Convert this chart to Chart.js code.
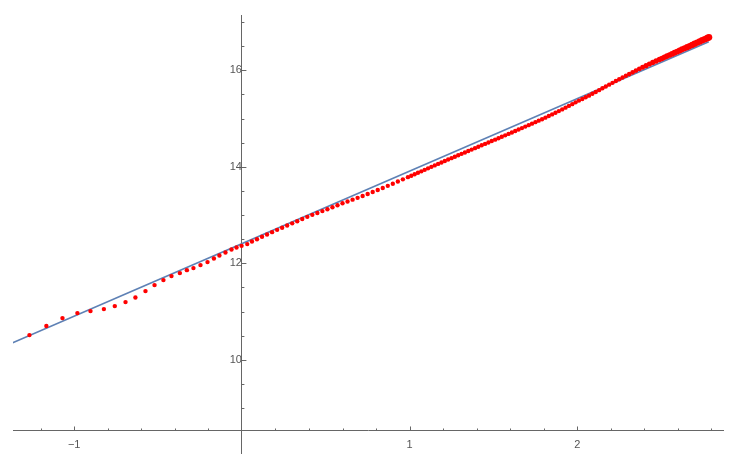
<!DOCTYPE html>
<html>
<head>
<meta charset="utf-8">
<script src="https://cdn.jsdelivr.net/npm/chart.js@4.4.1/dist/chart.umd.min.js"></script>
<style>
  html, body { margin: 0; padding: 0; background: #fff; }
  canvas { display: block; }
</style>
</head>
<body>
<canvas id="qqChart" width="738" height="459"></canvas>
<script>
// theoretical quantiles (x) and sample quantiles (y)
const qqX = [
  -1.267, -1.166, -1.070, -0.981, -0.903, -0.823, -0.758, -0.694, -0.635, -0.575,
  -0.521, -0.468, -0.420, -0.370, -0.328, -0.289, -0.247, -0.205, -0.167, -0.134,
  -0.098, -0.062, -0.032, -0.002, 0.032,
  0.06, 0.09, 0.12, 0.15, 0.18, 0.21, 0.24, 0.27, 0.30, 0.33, 0.36, 0.39, 0.42, 0.45,
  0.48, 0.51, 0.54, 0.57, 0.60, 0.63, 0.66, 0.69, 0.72, 0.75, 0.78, 0.81, 0.84, 0.87,
  0.90, 0.93, 0.96, 0.99,
  1.01, 1.03, 1.05, 1.07, 1.09, 1.11, 1.13, 1.15, 1.17, 1.19, 1.21, 1.23, 1.25, 1.27,
  1.29, 1.31, 1.33, 1.35, 1.37, 1.39, 1.41, 1.43, 1.45, 1.47, 1.49, 1.51, 1.53, 1.55,
  1.57, 1.59, 1.61, 1.63, 1.65, 1.67, 1.69, 1.71, 1.73, 1.75, 1.77, 1.79, 1.81, 1.83,
  1.85, 1.87, 1.89, 1.91, 1.93, 1.95, 1.97, 1.99, 2.01, 2.03, 2.05, 2.07, 2.09, 2.11,
  2.13, 2.15, 2.17, 2.19, 2.21, 2.23, 2.25, 2.27, 2.29, 2.31, 2.33, 2.35, 2.37, 2.39,
  2.41, 2.43, 2.45, 2.47, 2.49,
  2.505, 2.52, 2.535, 2.55, 2.565, 2.58, 2.595, 2.61, 2.625, 2.64, 2.655, 2.67, 2.685,
  2.70, 2.715, 2.73, 2.745, 2.76, 2.775, 2.785
];
const qqY = [
  10.513, 10.700, 10.865, 10.969, 11.010, 11.052, 11.114, 11.197, 11.292, 11.424,
  11.549, 11.652, 11.735, 11.797, 11.859, 11.901, 11.963, 12.025, 12.099, 12.161,
  12.224, 12.286, 12.327, 12.362, 12.398,
  12.453, 12.499, 12.550, 12.598, 12.646, 12.693, 12.738, 12.783, 12.828, 12.873,
  12.918, 12.963, 13.004, 13.043, 13.082, 13.121, 13.162, 13.203, 13.244, 13.282,
  13.319, 13.356, 13.396, 13.436, 13.477, 13.518, 13.562, 13.605, 13.649, 13.694,
  13.740, 13.785,
  13.815, 13.845, 13.876, 13.906, 13.937, 13.968, 13.999, 14.029, 14.060, 14.090,
  14.120, 14.150, 14.179, 14.208, 14.238, 14.268, 14.297, 14.327, 14.356, 14.386,
  14.416, 14.445, 14.474, 14.504, 14.533, 14.562, 14.592, 14.622, 14.651, 14.681,
  14.711, 14.741, 14.772, 14.802, 14.833, 14.863, 14.894, 14.925, 14.956, 14.986,
  15.018, 15.052, 15.086, 15.120, 15.154, 15.189, 15.225, 15.262, 15.298, 15.335,
  15.371, 15.406, 15.440, 15.474, 15.512, 15.550, 15.588, 15.626, 15.664, 15.702,
  15.739, 15.776, 15.813, 15.849, 15.885, 15.921, 15.957, 15.993, 16.028, 16.063,
  16.096, 16.129, 16.161, 16.192, 16.223,
  16.246, 16.270, 16.293, 16.316, 16.339, 16.363, 16.386, 16.409, 16.433, 16.456,
  16.479, 16.502, 16.526, 16.549, 16.573, 16.596, 16.620, 16.643, 16.667, 16.682
];

// fitted reference line, end points
const fitX = [-1.37, 2.784];
const fitY = [10.348, 16.590];

const xLabels = [-1, 1, 2];
const yLabels = [10, 12, 14, 16];

const axisColor = '#666666';
const labelColor = '#555555';
const xAxisAt = 8.526;

function isMajor(v, list) {
    return list.some(l => Math.abs(v - l) < 1e-6);
}

function fmt(v) {
    const r = Math.round(v);
    return r < 0 ? '\u2212' + Math.abs(r) : String(r);
}

// axes sit inside the plot, so they should not push the chart area in
function noAxisPadding(s) {
    s.paddingTop = 0;
    s.paddingBottom = 0;
    s.paddingLeft = 0;
    s.paddingRight = 0;
}

// mathematica style ticks: drawn on the inner side of the axes
const innerTicks = {
    id: 'innerTicks',
    afterDraw(chart) {
        const c = chart.ctx;
        const xs = chart.scales.x;
        const ys = chart.scales.y;
        const x0 = xs.getPixelForValue(0);
        const y0 = ys.getPixelForValue(xAxisAt);
        c.save();
        c.strokeStyle = axisColor;
        c.lineWidth = 1;
        c.beginPath();
        xs.ticks.forEach(t => {
            if (Math.abs(t.value) < 1e-6) return;
            const px = Math.round(xs.getPixelForValue(t.value)) + 0.5;
            const len = Math.abs(t.value - Math.round(t.value)) < 1e-6 ? 4.5 : 2.5;
            c.moveTo(px, y0);
            c.lineTo(px, y0 - len);
        });
        ys.ticks.forEach(t => {
            if (t.value < xAxisAt + 0.1) return;
            const py = Math.round(ys.getPixelForValue(t.value)) + 0.5;
            const len = isMajor(t.value, yLabels) ? 4.5 : 2.5;
            c.moveTo(x0, py);
            c.lineTo(x0 + len, py);
        });
        c.stroke();
        c.restore();
    }
};

const ctx = document.getElementById('qqChart').getContext('2d');

new Chart(ctx, {
    type: 'scatter',
    data: {
        datasets: [{
            data: qqX.map((x, i) => ({ x: x, y: qqY[i] })),
            backgroundColor: '#ff0000',
            borderWidth: 0,
            pointRadius: c => {
                const v = c.raw ? c.raw.x : 0;
                return v > 2.3 ? 2.3 + (v - 2.3) * 2.2 : 2.2;
            },
            pointHoverRadius: 0
        }, {
            type: 'line',
            data: fitX.map((x, i) => ({ x: x, y: fitY[i] })),
            borderColor: '#5e81b5',
            borderWidth: 1.6,
            pointRadius: 0,
            fill: false
        }]
    },
    options: {
        responsive: false,
        animation: false,
        devicePixelRatio: 1,
        layout: {
            padding: { left: 13, right: 15, top: 15, bottom: 6 }
        },
        scales: {
            x: {
                type: 'linear',
                min: -1.365,
                max: 2.869,
                position: { y: xAxisAt },
                afterFit: noAxisPadding,
                grid: { display: false },
                border: { display: true, color: axisColor, width: 1 },
                ticks: {
                    stepSize: 0.2,
                    includeBounds: false,
                    autoSkip: false,
                    maxRotation: 0,
                    padding: -1,
                    color: labelColor,
                    font: { family: 'Liberation Sans, Arial, sans-serif', size: 11 },
                    callback: v => isMajor(v, xLabels) ? fmt(v) : ''
                }
            },
            y: {
                type: 'linear',
                min: 8.07,
                max: 17.145,
                position: { x: 0 },
                afterFit: noAxisPadding,
                grid: { display: false },
                border: { display: true, color: axisColor, width: 1 },
                ticks: {
                    stepSize: 0.5,
                    includeBounds: false,
                    autoSkip: false,
                    padding: 4,
                    color: labelColor,
                    font: { family: 'Liberation Sans, Arial, sans-serif', size: 11 },
                    callback: v => isMajor(v, yLabels) ? fmt(v) : ''
                }
            }
        },
        plugins: {
            legend: { display: false },
            tooltip: { enabled: false }
        }
    },
    plugins: [innerTicks]
});
</script>
</body>
</html>
